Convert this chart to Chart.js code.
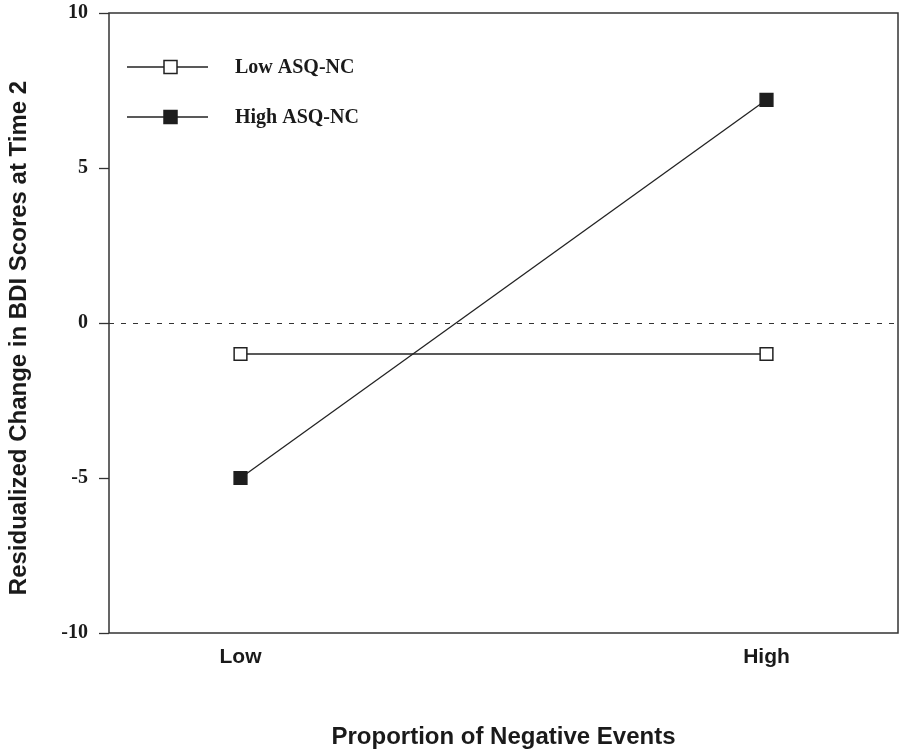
<!DOCTYPE html>
<html>
<head>
<meta charset="utf-8">
<script src="https://cdn.jsdelivr.net/npm/chart.js@4/dist/chart.umd.min.js"></script>
<style>
  html, body { margin: 0; padding: 0; background: #fff; }
</style>
</head>
<body>
<canvas id="chart" width="901" height="753"></canvas>
<script>
// Data
const categories = ['Low', 'High'];
const lowAsqNc = [-1.0, -1.0];
const highAsqNc = [-5.0, 7.2];
const yTicks = [-10, -5, 0, 5, 10];
const seriesNames = ['Low ASQ-NC', 'High ASQ-NC'];

const SANS = '"Liberation Sans", Arial, Helvetica, sans-serif';
const SERIF = '"Liberation Serif", "Times New Roman", Times, serif';
const INK = '#1a1a1a';

// category i sits at x = i + 1 on a linear axis
const toPoints = vals => vals.map((v, i) => ({ x: i + 1, y: v }));

// frame, dashed zero line, legend and rotated y title
const extras = {
    id: 'extras',
    beforeDatasetsDraw(chart) {
        const { ctx, chartArea: a, scales } = chart;
        const y0 = Math.round(scales.y.getPixelForValue(0)) + 0.5;
        ctx.save();
        ctx.strokeStyle = '#333';
        ctx.lineWidth = 1;
        ctx.setLineDash([5, 7]);
        ctx.beginPath();
        ctx.moveTo(a.left, y0);
        ctx.lineTo(a.right, y0);
        ctx.stroke();
        ctx.restore();
    },
    afterDraw(chart) {
        const { ctx, chartArea: a } = chart;
        ctx.save();
        // box round the plot
        ctx.strokeStyle = '#333';
        ctx.lineWidth = 1.5;
        ctx.strokeRect(a.left, a.top, a.right - a.left, a.bottom - a.top);

        // legend
        chart.data.datasets.forEach((ds, i) => {
            const ly = a.top + 54 + i * 50;
            ctx.strokeStyle = ds.borderColor;
            ctx.lineWidth = 1.3;
            ctx.beginPath();
            ctx.moveTo(a.left + 18, ly);
            ctx.lineTo(a.left + 99, ly);
            ctx.stroke();
            ctx.fillStyle = ds.pointBackgroundColor;
            ctx.fillRect(a.left + 55, ly - 6.5, 13, 13);
            ctx.strokeStyle = ds.pointBorderColor;
            ctx.lineWidth = 1.5;
            ctx.strokeRect(a.left + 55, ly - 6.5, 13, 13);
            ctx.fillStyle = INK;
            ctx.font = 'bold 20px ' + SERIF;
            ctx.textAlign = 'left';
            ctx.textBaseline = 'middle';
            ctx.fillText(ds.label, a.left + 126, ly + 1);
        });

        // y axis title
        ctx.translate(19, 338);
        ctx.rotate(-Math.PI / 2);
        ctx.fillStyle = INK;
        ctx.font = 'bold 24px ' + SANS;
        ctx.textAlign = 'center';
        ctx.textBaseline = 'middle';
        ctx.fillText('Residualized Change in BDI Scores at Time 2', 0, 0);
        ctx.restore();
    }
};

new Chart(document.getElementById('chart'), {
    type: 'line',
    data: {
        datasets: [
            {
                label: seriesNames[0],
                data: toPoints(lowAsqNc),
                borderColor: '#222',
                borderWidth: 1.3,
                pointStyle: 'rect',
                pointRadius: 9,
                pointBackgroundColor: '#fff',
                pointBorderColor: '#222',
                pointBorderWidth: 1.5
            },
            {
                label: seriesNames[1],
                data: toPoints(highAsqNc),
                borderColor: '#222',
                borderWidth: 1.3,
                pointStyle: 'rect',
                pointRadius: 9,
                pointBackgroundColor: '#1e1e1e',
                pointBorderColor: '#1e1e1e',
                pointBorderWidth: 1.5
            }
        ]
    },
    options: {
        responsive: false,
        animation: false,
        layout: { autoPadding: false, padding: { top: 13, right: 3, left: 0, bottom: 0 } },
        plugins: {
            legend: { display: false },
            tooltip: { enabled: false }
        },
        scales: {
            x: {
                type: 'linear',
                min: 0.75,
                max: 2.25,
                afterBuildTicks: axis => {
                    axis.ticks = categories.map((c, i) => ({ value: i + 1 }));
                },
                afterFit: axis => {
                    axis.height = 120;
                    axis.paddingLeft = 0;
                    axis.paddingRight = 0;
                },
                grid: { display: false, drawTicks: false },
                border: { display: false },
                ticks: {
                    padding: 12,
                    color: INK,
                    font: { family: SANS, size: 21, weight: 'bold' },
                    callback: v => categories[v - 1]
                },
                title: {
                    display: true,
                    text: 'Proportion of Negative Events',
                    color: INK,
                    font: { family: SANS, size: 24, weight: 'bold' },
                    padding: { top: 0, bottom: 1 }
                }
            },
            y: {
                min: yTicks[0],
                max: yTicks[yTicks.length - 1],
                afterBuildTicks: axis => {
                    axis.ticks = yTicks.map(v => ({ value: v }));
                },
                afterFit: axis => {
                    axis.width = 109;
                    axis.paddingTop = 0;
                    axis.paddingBottom = 0;
                },
                grid: {
                    drawOnChartArea: false,
                    drawTicks: true,
                    tickLength: 10,
                    tickWidth: 1.3,
                    tickColor: '#333'
                },
                border: { display: false },
                ticks: {
                    padding: 11,
                    color: INK,
                    font: { family: SERIF, size: 20, weight: 'bold' }
                }
            }
        }
    },
    plugins: [extras]
});
</script>
</body>
</html>
